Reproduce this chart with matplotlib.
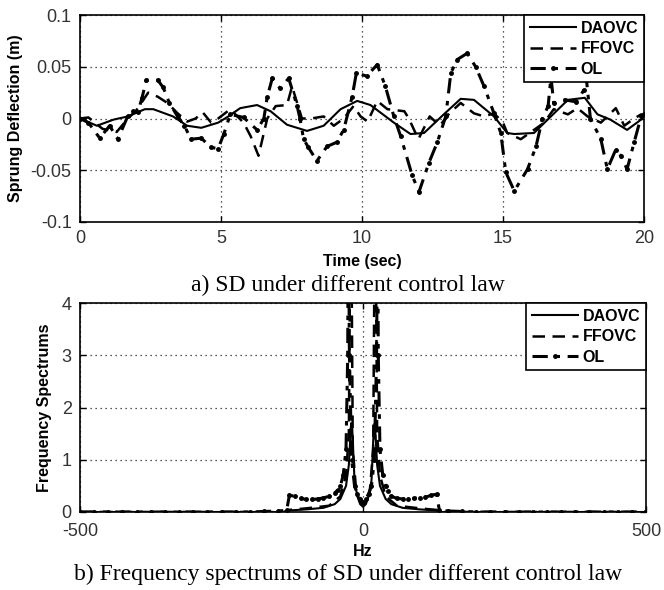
import numpy as np
import matplotlib
matplotlib.use("Agg")
import matplotlib.pyplot as plt

plt.rcParams["axes.unicode_minus"] = False

# ---- data ----
# a) sprung deflection vs time
t_dao = [0, 0.6, 1.2, 1.7, 2.3, 2.6, 3.3, 3.8, 4.3, 4.9,
         5.26, 5.68, 6.28, 6.76, 7.34, 8.05, 8.64, 9.24, 9.83, 10.3,
         11.13, 11.72, 12.2, 12.9, 13.5, 13.97, 14.68, 15.15, 15.4, 16.1,
         16.7, 17.3, 17.9, 18.35, 18.8, 19.4, 19.9, 20]
sd_dao = [0, -0.007, -0.001, 0.002, 0.009, 0.009, 0.002, -0.007, -0.009, -0.004,
          0.002, 0.010, 0.013, 0.007, -0.006, -0.012, -0.007, 0.009, 0.017, 0.013,
          -0.004, -0.015, -0.014, 0.004, 0.019, 0.018, 0.002, -0.014, -0.015, -0.014,
          0.002, 0.018, 0.020, 0.004, -0.001, -0.011, -0.001, 0.003]

t_ff = [0, 0.3, 0.8, 1.3, 1.7, 2.0, 2.42, 2.76, 3.1, 3.46,
        3.8, 4.1, 4.35, 4.65, 4.9, 5.33, 5.8, 6.05, 6.33, 6.64,
        6.94, 7.34, 7.52, 7.87, 8.2, 8.64, 9.0, 9.35, 9.7, 9.95,
        10.2, 10.54, 10.9, 11.5, 11.66, 12.0, 12.4, 12.76, 13.1, 13.5,
        13.97, 14.33, 14.68, 15.0, 15.15, 15.63, 16.1, 16.46, 16.8, 17.3,
        17.64, 18.0, 18.47, 19.0, 19.3, 19.65, 19.9, 20]
sd_ff = [0, 0.001, -0.010, -0.013, 0.0, 0.008, 0.025, 0.021, 0.015, 0.005,
         -0.003, 0.0, 0.006, -0.004, 0.0, 0.009, -0.004, -0.017, -0.036, 0.0,
         0.012, 0.013, 0.031, 0.0, 0.0, 0.002, -0.007, 0.0, 0.012, 0.002,
         -0.003, 0.017, 0.009, 0.007, 0.0, -0.020, 0.002, -0.007, 0.005, 0.015,
         0.005, 0.002, 0.005, -0.004, -0.014, -0.020, -0.011, -0.004, 0.009, 0.004,
         0.010, 0.002, -0.004, 0.010, -0.007, 0.0, 0.004, 0.003]

t_ol = [0, 0.3, 0.7, 1.05, 1.34, 1.69, 1.87, 2.05, 2.2, 2.35,
        2.76, 2.95, 3.17, 3.46, 3.7, 3.94, 4.3, 4.65, 4.9, 5.1,
        5.33, 5.8, 6.28, 6.52, 6.64, 6.82, 7.1, 7.4, 7.7, 7.8,
        7.93, 8.1, 8.4, 8.76, 9.1, 9.35, 9.65, 9.8, 10.16, 10.54,
        10.83, 11.13, 11.37, 11.78, 12.02, 12.37, 12.67, 12.97, 13.15, 13.38,
        13.73, 14.03, 14.33, 14.68, 14.92, 15.1, 15.4, 15.87, 16.17, 16.4,
        16.6, 16.7, 16.8, 17.2, 17.6, 17.88, 17.95, 18.1, 18.47, 18.7,
        19.0, 19.18, 19.4, 19.65, 19.9, 20]
sd_ol = [0, -0.004, -0.019, -0.007, -0.020, 0.002, 0.007, 0.006, 0.02, 0.037,
         0.037, 0.03, 0.015, 0.002, -0.007, -0.020, -0.019, -0.028, -0.029, -0.015,
         0.004, 0.001, -0.011, 0.0, 0.021, 0.039, 0.029, 0.039, 0.012, 0.0,
         -0.020, -0.028, -0.041, -0.027, -0.023, -0.011, 0.021, 0.044, 0.041, 0.052,
         0.031, 0.002, -0.017, -0.055, -0.071, -0.043, -0.023, 0.002, 0.044, 0.057,
         0.063, 0.050, 0.031, 0.005, -0.014, -0.052, -0.070, -0.049, -0.027, 0.0,
         0.012, 0.04, 0.015, 0.018, 0.016, 0.028, 0.04, 0.0, -0.020, -0.049,
         -0.030, -0.036, -0.049, -0.023, 0.002, 0.004]

# b) frequency spectrum
f_dao = [-500, -140, -130, -100, -70, -50, -40, -30, -25, -21, -19, -15, -10, -5, 0,
         5, 10, 15, 19, 21, 25, 30, 40, 50, 70, 100, 130, 140, 500]
sp_dao = [0, 0, 0.03, 0.05, 0.08, 0.15, 0.25, 0.5, 0.9, 1.7, 1.6, 0.6, 0.3, 0.15, 0.1,
          0.15, 0.3, 0.6, 1.6, 1.7, 0.9, 0.5, 0.25, 0.15, 0.08, 0.05, 0.03, 0, 0]

f_ff = [-500, -140, -130, -100, -60, -40, -30, -25, -23, -21, -18, -12, -5, 0,
        5, 12, 18, 21, 23, 25, 30, 40, 60, 100, 130, 140, 500]
sp_ff = [0, 0, 0.04, 0.07, 0.12, 0.3, 0.7, 1.5, 4.5, 6.0, 1.2, 0.4, 0.2, 0.15,
         0.2, 0.4, 1.2, 6.0, 4.5, 1.5, 0.7, 0.3, 0.12, 0.07, 0.04, 0, 0]

f_ol = [-500, -475, -450, -425, -400, -375, -350, -325, -300, -275, -250, -225, -200,
        -175, -150, -135, -130, -120, -110, -100, -90, -80, -70, -60, -50, -45, -40,
        -35, -30, -27, -26, -24, -20, -15, -10, -5, 0, 5, 10, 15, 20, 24, 26, 27, 30,
        35, 40, 45, 50, 60, 70, 80, 90, 100, 110, 120, 130, 135, 150, 175, 200, 225,
        250, 275, 300, 325, 350, 375, 400, 425, 450, 475, 500]
sp_ol = [0, 0, 0, 0, 0, 0, 0, 0, 0, 0, 0, 0, 0,
         0.01, 0.02, 0.03, 0.32, 0.3, 0.26, 0.24, 0.24, 0.25, 0.27, 0.3, 0.36, 0.42, 0.5,
         0.7, 1.2, 3.0, 6.0, 3.0, 1.0, 0.5, 0.35, 0.25, 0.2, 0.25, 0.35, 0.5, 1.0, 3.0, 6.0, 3.0, 1.2,
         0.7, 0.5, 0.4, 0.3, 0.26, 0.25, 0.25, 0.26, 0.27, 0.28, 0.32, 0.34, 0.03, 0.02, 0.01, 0, 0,
         0, 0, 0, 0, 0, 0, 0, 0, 0, 0, 0]

labels = ["DAOVC", "FFOVC", "OL"]

fig = plt.figure(figsize=(6.64, 5.90), dpi=100)
ax1 = fig.add_axes([80 / 664, 1 - 222 / 590, 564 / 664, 207 / 590])
ax2 = fig.add_axes([80 / 664, 1 - 512 / 590, 566 / 664, 209 / 590])

lab_font = dict(family="Liberation Sans", size=11.5, weight="bold")


def style(ax):
    ax.grid(True, linestyle=(0, (1, 3)), color="#222222", linewidth=0.9)
    ax.tick_params(direction="in", top=True, right=True, length=4, width=1, pad=6,
                   labelsize=13, labelcolor="#333333")
    for lb in ax.get_xticklabels() + ax.get_yticklabels():
        lb.set_family("Liberation Sans")
    for s in ax.spines.values():
        s.set_linewidth(1.2)
    leg = ax.legend(loc="upper right", prop=dict(family="Liberation Sans", weight="bold", size=11.5),
                    fancybox=False, framealpha=1, edgecolor="black", borderaxespad=0,
                    handlelength=2.9, labelspacing=0.35, borderpad=0.35, handletextpad=0.3)
    leg.get_frame().set_linewidth(1.2)


ol_style = dict(color="black", linestyle=(0, (5, 2.5, 1.5, 2.5)), linewidth=2.2,
                marker=".", markersize=5)

ax1.plot(t_dao, sd_dao, color="black", linewidth=1.5, label=labels[0])
ax1.plot(t_ff, sd_ff, color="black", linestyle=(0, (5, 3)), linewidth=1.8, label=labels[1])
ax1.plot(t_ol, sd_ol, label=labels[2], **ol_style)
ax1.set_xlim(0, 20)
ax1.set_ylim(-0.1, 0.1)
ax1.set_xticks([0, 5, 10, 15, 20])
ax1.set_yticks([-0.1, -0.05, 0, 0.05, 0.1])
ax1.set_yticklabels(["-0.1", "-0.05", "0", "0.05", "0.1"])
ax1.set_xlabel("Time (sec)", labelpad=5, **lab_font)
ax1.set_ylabel("Sprung Deflection (m)", **lab_font)
ax1.yaxis.set_label_coords(-0.101, 0.5)
style(ax1)

ax2.plot(f_dao, sp_dao, color="black", linewidth=1.5, label=labels[0])
ax2.plot(f_ff, sp_ff, color="black", linestyle=(0, (5, 3)), linewidth=1.8, label=labels[1])
ax2.plot(f_ol, sp_ol, label=labels[2], **ol_style)
ax2.set_xlim(-500, 500)
ax2.set_ylim(0, 4)
ax2.set_xticks([-500, 0, 500])
ax2.set_xticklabels(["-500", "0", "500"])
ax2.set_yticks([0, 1, 2, 3, 4])
ax2.set_xlabel("Hz", labelpad=3, **lab_font)
ax2.set_ylabel("Frequency Spectrums", **lab_font)
ax2.yaxis.set_label_coords(-0.05, 0.5)
style(ax2)
ax2.tick_params(axis="x", pad=8)

cap = dict(family="Liberation Serif", size=17, ha="center", va="center")
fig.text(348 / 664, 1 - 285 / 590, "a) SD under different control law", **cap)
fig.text(348 / 664, 1 - 574 / 590, "b) Frequency spectrums of SD under different control law", **cap)

fig.savefig("out.png", dpi=100)
